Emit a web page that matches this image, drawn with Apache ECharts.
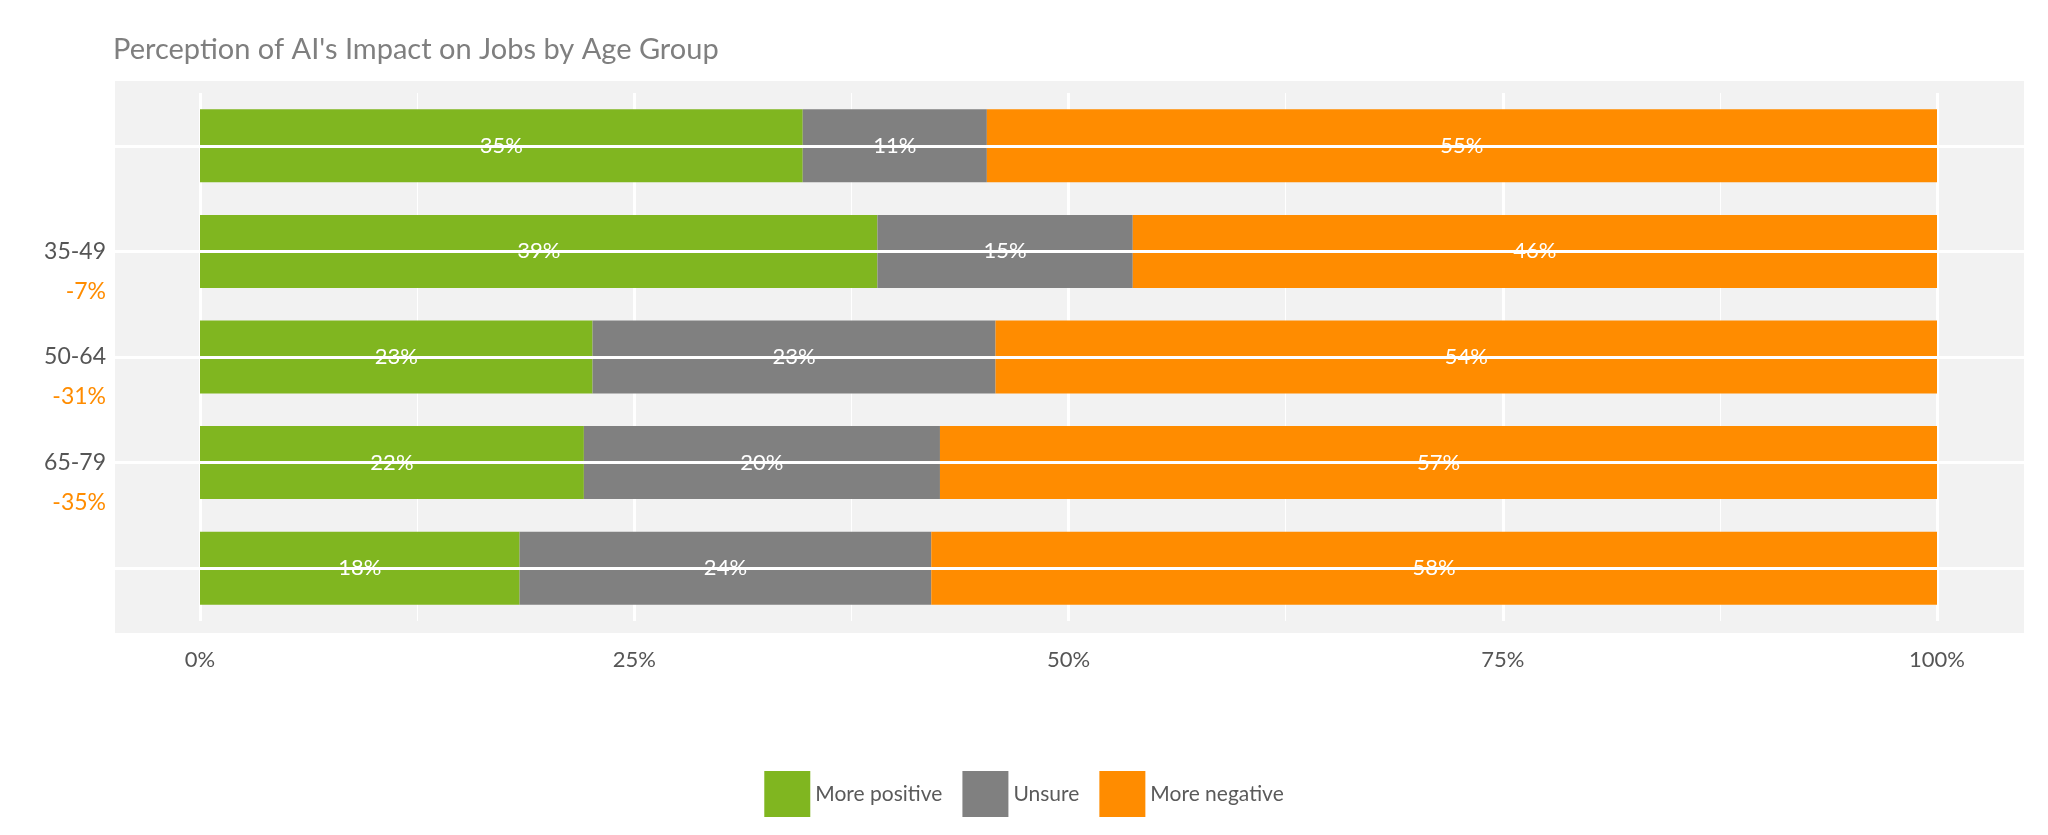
<!DOCTYPE html>
<html>
<head>
<meta charset="utf-8">
<script src="https://cdn.jsdelivr.net/npm/echarts@6/dist/echarts.min.js"></script>
<style>html,body{margin:0;padding:0;background:#fff}#chart{width:2048px;height:835px}</style>
</head>
<body>
<div id="chart"></div>
<script>
// 数据
var ageGroups = ['18-34', '35-49', '50-64', '65-79', '80+'];
var netLabels = ['-20%', '-7%', '-31%', '-35%', '-40%'];
var positiveVals = [34.7, 39.0, 22.6, 22.1, 18.4];
var unsureVals = [10.6, 14.7, 23.2, 20.5, 23.7];
var negativeVals = [54.7, 46.3, 54.2, 57.4, 57.9];
var positiveText = ['35%', '39%', '23%', '22%', '18%'];
var unsureText = ['11%', '15%', '23%', '20%', '24%'];
var negativeText = ['55%', '46%', '54%', '57%', '58%'];
var xTicks = ['0%', '25%', '50%', '75%', '100%'];

var FONT = 'Lato, "Noto Sans", sans-serif';

var makeSeries = function (name, vals, texts, color) {
    return {
        name: name,
        type: 'bar',
        stack: 'total',
        xAxisIndex: 1,
        yAxisIndex: 1,
        barWidth: 73,
        data: vals,
        itemStyle: {color: color},
        label: {
            show: true,
            color: '#fff',
            fontFamily: FONT,
            fontSize: 22,
            formatter: function (p) { return texts[p.dataIndex]; }
        }
    };
};

var myChart = echarts.init(document.getElementById('chart'));
myChart.setOption({
    animation: false,
    title: {
        text: "Perception of AI's Impact on Jobs by Age Group",
        left: 108,
        top: 30,
        textStyle: {color: '#7f7f7f', fontFamily: FONT, fontSize: 29, fontWeight: 'normal'}
    },
    graphic: [{
        type: 'rect',
        z: -10,
        shape: {x: 115, y: 81, width: 1909, height: 552},
        style: {fill: '#f2f2f2'}
    }],
    legend: {
        data: ['More positive', 'Unsure', 'More negative'],
        left: 'center',
        top: 766,
        itemWidth: 46,
        itemHeight: 46,
        itemGap: 20,
        icon: 'rect',
        textStyle: {color: '#5a5a5a', fontFamily: FONT, fontSize: 21}
    },
    grid: [
        {left: 115, right: 24, top: 93, bottom: 214},
        {left: 200, right: 111, top: 93, bottom: 214}
    ],
    xAxis: [
        {gridIndex: 0, type: 'value', min: 0, max: 100, show: false},
        {
            gridIndex: 1, type: 'value', min: 0, max: 100, interval: 25,
            axisLine: {show: false},
            axisTick: {show: false},
            axisLabel: {
                color: '#555', fontFamily: FONT, fontSize: 22, margin: 28,
                formatter: function (v) { return xTicks[v / 25]; }
            },
            splitLine: {show: true, lineStyle: {color: '#fff', width: 3}},
            minorTick: {show: false, splitNumber: 2},
            minorSplitLine: {show: true, lineStyle: {color: '#fff', width: 1}}
        }
    ],
    yAxis: [
        {gridIndex: 0, type: 'category', data: ageGroups, inverse: true, show: false},
        {
            gridIndex: 1, type: 'category', data: ageGroups, inverse: true,
            axisLine: {show: false},
            axisTick: {show: false},
            splitLine: {show: false},
            axisLabel: {
                margin: 94,
                align: 'right',
                padding: [40, 0, 0, 0],
                lineHeight: 40,
                color: '#555', fontFamily: FONT, fontSize: 23,
                formatter: function (v, i) { return v + '\n{o|' + netLabels[i] + '}'; },
                rich: {o: {color: '#ff8c00', fontFamily: FONT, fontSize: 23, lineHeight: 40}}
            }
        }
    ],
    series: [
        {
            type: 'bar', xAxisIndex: 0, yAxisIndex: 0, silent: true,
            data: [0, 0, 0, 0, 0], z: 0,
            markLine: {
                silent: true, symbol: 'none', label: {show: false},
                lineStyle: {color: '#fff', width: 3, type: 'solid'},
                data: ageGroups.map(function (g) { return {yAxis: g}; })
            }
        },
        makeSeries('More positive', positiveVals, positiveText, '#80b620'),
        makeSeries('Unsure', unsureVals, unsureText, '#808080'),
        makeSeries('More negative', negativeVals, negativeText, '#ff8c00')
    ]
});
</script>
</body>
</html>
